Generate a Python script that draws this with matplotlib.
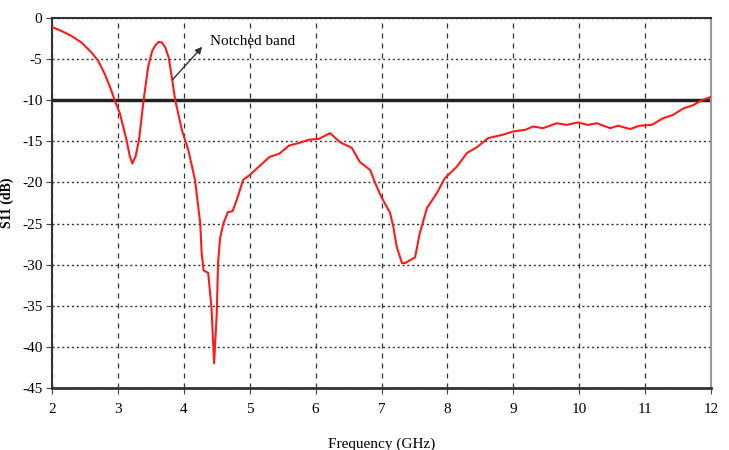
import matplotlib
matplotlib.use("Agg")
import matplotlib.pyplot as plt

freq = [2.0, 2.15, 2.3, 2.45, 2.6, 2.7, 2.8, 2.9, 2.95, 3.03, 3.13, 3.18, 3.22, 3.27, 3.32, 3.39, 3.46,
        3.52, 3.57, 3.62, 3.67, 3.72, 3.77, 3.82, 3.87, 3.97,
        4.07, 4.17, 4.25, 4.27, 4.3, 4.37, 4.42, 4.46, 4.5, 4.52, 4.55, 4.6, 4.67, 4.74, 4.8,
        4.9, 5.0, 5.15, 5.3, 5.45, 5.6, 5.75, 5.9, 6.05, 6.22, 6.37, 6.55, 6.67, 6.83, 6.9,
        7.0, 7.13, 7.18, 7.23, 7.31, 7.36, 7.51, 7.58, 7.69, 7.84, 7.96, 8.14, 8.3, 8.45, 8.62,
        8.84, 9.0, 9.18, 9.3, 9.45, 9.66, 9.81, 9.98, 10.13, 10.27, 10.47, 10.59, 10.77, 10.92,
        11.1, 11.27, 11.42, 11.58, 11.73, 11.86, 12.0]
s11 = [-1.1, -1.6, -2.2, -3.0, -4.2, -5.2, -6.8, -8.8, -10.0, -11.6, -14.8, -16.8, -17.7, -16.8, -14.8, -10.0, -5.9,
       -4.0, -3.3, -2.9, -3.0, -3.6, -4.8, -7.3, -10.0, -13.6,
       -16.1, -19.7, -25.0, -28.5, -30.7, -31.0, -35.2, -42.0, -35.9, -29.8, -26.8, -25.0, -23.6, -23.5, -22.2,
       -19.7, -19.1, -18.0, -16.9, -16.5, -15.5, -15.2, -14.8, -14.7, -14.0, -15.1, -15.8, -17.5, -18.5, -20.0,
       -21.8, -23.7, -25.4, -27.8, -29.8, -29.8, -29.1, -26.2, -23.1, -21.3, -19.5, -18.1, -16.4, -15.7, -14.6,
       -14.2, -13.8, -13.6, -13.2, -13.4, -12.8, -13.0, -12.7, -13.0, -12.8, -13.4, -13.1, -13.5, -13.1,
       -13.0, -12.2, -11.8, -11.0, -10.6, -10.0, -9.6]

xticks = [2, 3, 4, 5, 6, 7, 8, 9, 10, 11, 12]
yticks = [0, -5, -10, -15, -20, -25, -30, -35, -40, -45]

plt.rcParams['font.family'] = ['Liberation Serif', 'DejaVu Serif']

fig = plt.figure(figsize=(7.29, 4.5), dpi=100)
ax = fig.add_axes([52/729, 1-388/450, (711-52)/729, (388-18)/450])

ax.plot(freq, s11, color='#ff1a1a', lw=1.5, zorder=3)
ax.axhline(-10, color='#222222', lw=2.5, zorder=2)

ax.set_xlim(2, 12)
ax.set_ylim(-45, 0)
ax.set_xticks(xticks)
ax.set_yticks(yticks)
ax.set_xticklabels([str(t) for t in xticks], fontsize=11)
ax.set_yticklabels([str(t) for t in yticks], fontsize=11)

ax.xaxis.grid(True, linestyle=(0, (4, 4)), color='#333333', lw=0.9)
ax.yaxis.grid(True, linestyle=(0, (1.5, 2)), color='#333333', lw=1.0)
ax.tick_params(axis='both', direction='out', length=4, width=0.8, color='#444444', pad=3)
ax.tick_params(axis='x', pad=7)

for side in ['left', 'bottom', 'top']:
    ax.spines[side].set_color('#333333')
    ax.spines[side].set_linewidth(1.5)
ax.spines['right'].set_color('#999999')
ax.spines['right'].set_linewidth(1.5)
ax.spines['bottom'].set_linewidth(2.0)

ax.set_xlabel('Frequency (GHz)', fontsize=11)
ax.xaxis.set_label_coords(0.5, -0.135)
ax.set_ylabel('S11 (dB)', fontsize=10, fontweight='bold')
ax.yaxis.set_label_coords(-0.058, 0.5)

ax.text(4.4, -2.9, 'Notched band', fontsize=11, va='center', ha='left')
ax.annotate('', xy=(4.28, -3.5), xytext=(3.83, -7.5),
            arrowprops=dict(arrowstyle='-|>', color='#333333', lw=1.0,
                            shrinkA=0, shrinkB=0, mutation_scale=10))

fig.savefig('out.png', dpi=100)
